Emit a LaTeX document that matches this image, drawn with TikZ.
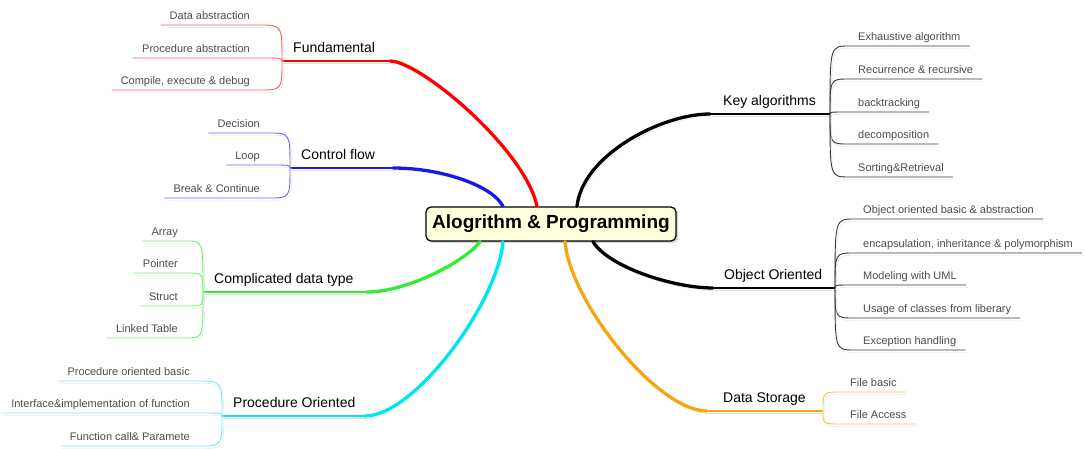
\documentclass[tikz,border=0pt]{standalone}
\usepackage{fontspec}
\setmainfont{Liberation Sans}
\usepackage{tikz}
\usetikzlibrary{
  positioning,
  shadows
}
\usepackage{xcolor}
\definecolor{fundRed}{rgb}{1,0,0}
\definecolor{fundLight}{rgb}{0.93,0.38,0.38}
\definecolor{flowBlue}{rgb}{0.1,0.1,0.9}
\definecolor{flowLight}{rgb}{0.42,0.42,0.9}
\definecolor{typeGreen}{rgb}{0.2,0.92,0.2}
\definecolor{typeLight}{rgb}{0.45,0.93,0.45}
\definecolor{procCyan}{rgb}{0,0.9,0.95}
\definecolor{procLight}{rgb}{0.45,0.92,0.95}
\definecolor{storeOrange}{rgb}{0.96,0.65,0.05}
\definecolor{storeLight}{rgb}{0.96,0.78,0.35}
\definecolor{keyLight}{rgb}{0.22,0.22,0.22}
\definecolor{leafGray}{rgb}{0.3,0.3,0.3}
\definecolor{rootYellow}{rgb}{1,1,0.86}
\tikzset{
  root/.style={
    draw,
    line width=1.3pt,
    rounded corners=5pt,
    fill=rootYellow,
    minimum width=250pt,
    minimum height=34pt,
    font=\bfseries\fontsize{19pt}{22pt}\selectfont,
    drop shadow={shadow xshift=2pt, shadow yshift=-2pt, opacity=0.35}
  },
  topic/.style={
    anchor=south west,
    inner xsep=11pt,
    inner ysep=5pt,
    text height=10pt,
    text depth=3pt,
    font=\fontsize{14pt}{16pt}\selectfont
  },
  leaf/.style={
    inner xsep=9pt,
    inner ysep=3pt,
    text height=8pt,
    text depth=2.5pt,
    text=leafGray,
    font=\fontsize{11pt}{13pt}\selectfont
  },
  shade line/.style={
    preaction={draw=black!12, transform canvas={shift={(1.5pt,-2.5pt)}}}
  },
  trunk/.style={line width=3.3pt, line cap=round, shade line},
  bar/.style={line width=2pt, shade line},
  twig/.style={line width=0.9pt, shade line}
}

\begin{document}
\begin{tikzpicture}[x=1pt, y=-1pt]
  \useasboundingbox (0,0) rectangle (1085,449);

  \node[root] (root) at (551,224) {Alogrithm \& Programming};

  % hubs and bar ends
  \coordinate (fund-hub) at (282,61);  \coordinate (fund-end) at (390,61);
  \coordinate (flow-hub) at (290,168); \coordinate (flow-end) at (393,168);
  \coordinate (type-hub) at (203,292); \coordinate (type-end) at (367,292);
  \coordinate (proc-hub) at (222,416); \coordinate (proc-end) at (365,416);
  \coordinate (key-end) at (710,114);  \coordinate (key-hub) at (830,114);
  \coordinate (obj-end) at (713,288);  \coordinate (obj-hub) at (835,288);
  \coordinate (store-end) at (707,411); \coordinate (store-hub) at (823,411);

  \node[topic] (fund) at (fund-hub) {Fundamental};
  \node[topic] (flow) at (flow-hub) {Control flow};
  \node[topic] (type) at (type-hub) {Complicated data type};
  \node[topic] (proc) at (proc-hub) {Procedure Oriented};
  \node[topic] (key) at ([xshift=2pt]key-end) {Key algorithms};
  \node[topic] (obj) at (obj-end) {Object Oriented};
  \node[topic] (store) at ([xshift=5pt]store-end) {Data Storage};

  % trunks
  \draw[trunk, fundRed] ([xshift=-14pt]root.north) .. controls +(-12,-57) and +(30,0) .. (fund-end);
  \draw[bar, fundRed] (fund-end) -- (fund-hub);
  \draw[trunk, flowBlue] ([xshift=-48pt]root.north) .. controls +(-10,-20) and +(50,0) .. (flow-end);
  \draw[bar, flowBlue] (flow-end) -- (flow-hub);
  \draw[trunk, typeGreen] ([xshift=-71pt]root.south) .. controls +(-15,20) and +(40,0) .. (type-end);
  \draw[bar, typeGreen] (type-end) -- (type-hub);
  \draw[trunk, procCyan] ([xshift=-48pt]root.south) .. controls +(-5,60) and +(50,0) .. (proc-end);
  \draw[bar, procCyan] (proc-end) -- (proc-hub);
  \draw[trunk] ([xshift=26pt]root.north) .. controls +(5,-50) and +(-50,0) .. (key-end);
  \draw[bar] (key-end) -- (key-hub);
  \draw[trunk] ([xshift=42pt]root.south) .. controls +(15,25) and +(-40,0) .. (obj-end);
  \draw[bar] (obj-end) -- (obj-hub);
  \draw[trunk, storeOrange] ([xshift=14pt]root.south) .. controls +(5,60) and +(-50,0) .. (store-end);
  \draw[bar, storeOrange] (store-end) -- (store-hub);

  % leaves, left side
  \foreach \i/\txt/\y in {1/Data abstraction/25, 2/Procedure abstraction/58, 3/{Compile, execute \& debug}/90}{
    \node[leaf, anchor=south east] (fund-\i) at (259,\y) {\txt};
    \draw[twig, fundLight] (fund-hub) .. controls (fund-hub |- fund-\i.south east) .. (fund-\i.south east) -- (fund-\i.south west);
  }
  \foreach \i/\txt/\y in {1/Decision/133, 2/Loop/165, 3/Break \& Continue/198}{
    \node[leaf, anchor=south east] (flow-\i) at (269,\y) {\txt};
    \draw[twig, flowLight] (flow-hub) .. controls (flow-hub |- flow-\i.south east) .. (flow-\i.south east) -- (flow-\i.south west);
  }
  \foreach \i/\txt/\y in {1/Array/241, 2/Pointer/273, 3/Struct/306, 4/Linked Table/338}{
    \node[leaf, anchor=south east] (type-\i) at (187,\y) {\txt};
    \draw[twig, typeLight] (type-hub) .. controls (type-hub |- type-\i.south east) .. (type-\i.south east) -- (type-\i.south west);
  }
  \foreach \i/\txt/\y in {1/Procedure oriented basic/381, 2/Interface\&implementation of function/413, 3/Function call\& Paramete/446}{
    \node[leaf, anchor=south east] (proc-\i) at (199,\y) {\txt};
    \draw[twig, procLight] (proc-hub) .. controls (proc-hub |- proc-\i.south east) .. (proc-\i.south east) -- (proc-\i.south west);
  }

  % leaves, right side
  \foreach \i/\txt/\y in {1/Exhaustive algorithm/46, 2/Recurrence \& recursive/79, 3/backtracking/112, 4/decomposition/144, 5/Sorting\&Retrieval/177}{
    \node[leaf, anchor=south west] (key-\i) at (849,\y) {\txt};
    \draw[twig, keyLight] (key-hub) .. controls (key-hub |- key-\i.south west) .. (key-\i.south west) -- (key-\i.south east);
  }
  \foreach \i/\txt/\y in {1/Object oriented basic \& abstraction/219, 2/{encapsulation, inheritance \& polymorphism}/253, 3/Modeling with UML/285, 4/Usage of classes from liberary/318, 5/Exception handling/350}{
    \node[leaf, anchor=south west] (obj-\i) at (854,\y) {\txt};
    \draw[twig, keyLight] (obj-hub) .. controls (obj-hub |- obj-\i.south west) .. (obj-\i.south west) -- (obj-\i.south east);
  }
  \foreach \i/\txt/\y in {1/File basic/392, 2/File Access/424}{
    \node[leaf, anchor=south west] (store-\i) at (841,\y) {\txt};
    \draw[twig, storeLight] (store-hub) .. controls (store-hub |- store-\i.south west) .. (store-\i.south west) -- (store-\i.south east);
  }
\end{tikzpicture}
\end{document}
